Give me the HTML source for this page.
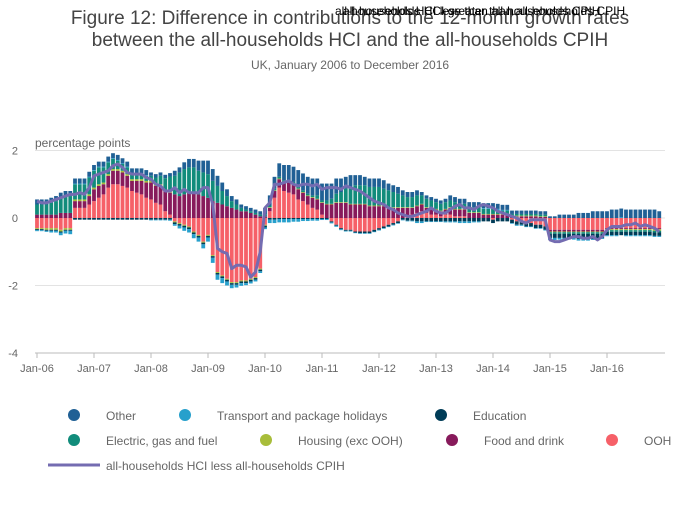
<!DOCTYPE html>
<html><head><meta charset="utf-8"><style>
body{margin:0;background:#fff;font-family:"Liberation Sans",sans-serif}
svg text{font-family:"Liberation Sans",sans-serif}
</style></head><body>
<svg id="c" width="700" height="502">
<text x="350" y="24" text-anchor="middle" font-size="19" fill="#444">Figure 12: Difference in contributions to the 12-month growth rates</text>
<text x="350" y="46" text-anchor="middle" font-size="19" fill="#444">between the all-households HCI and the all-households CPIH</text>
<text x="350" y="69" text-anchor="middle" font-size="12" fill="#666">UK, January 2006 to December 2016</text>
<text x="335" y="15" font-size="12" fill="#000">all-households HCI less than all-households CPIH</text>
<text x="343" y="15" font-size="12" fill="#000">all-households HCI greater than all-households CPIH</text>
<text x="35" y="147" font-size="12" fill="#666">percentage points</text>
<g id="grid"></g><g id="bars"></g><g id="lineg"></g><g id="axes"></g>
<g id="legend"></g>
</svg>
<script>
const categories=[];for(let y=6;y<=16;y++)for(let m=0;m<12;m++)categories.push((y<10?'0':'')+y+'-'+(m+1));
const yTicks=[2,0,-2,-4];
const xTickLabels=['Jan-06','Jan-07','Jan-08','Jan-09','Jan-10','Jan-11','Jan-12','Jan-13','Jan-14','Jan-15','Jan-16'];
const ooh=[-0.3,-0.3,-0.3,-0.3,-0.3,-0.35,-0.3,-0.3,0.3,0.3,0.3,0.4,
0.5,0.6,0.7,0.9,1.0,1.0,0.95,0.9,0.8,0.75,0.7,0.6,
0.55,0.45,0.4,0.2,0.1,-0.1,-0.15,-0.2,-0.25,-0.4,-0.5,-0.7,
-0.5,-1.1,-1.6,-1.7,-1.8,-1.9,-1.9,-1.85,-1.85,-1.8,-1.75,-1.5,
-0.2,0.2,0.6,0.9,0.8,0.75,0.7,0.55,0.5,0.4,0.3,0.25,
0.1,0.0,-0.1,-0.2,-0.3,-0.35,-0.35,-0.4,-0.4,-0.4,-0.4,-0.35,
-0.3,-0.25,-0.2,-0.15,-0.1,0.0,0.05,0.1,0.15,0.2,0.15,0.1,
0.1,0.05,0.1,0.1,0.05,0.05,0.05,0.0,0.0,0.0,0.0,0.0,
-0.05,0.0,0.0,0.0,-0.05,-0.1,-0.1,-0.15,-0.15,-0.2,-0.2,-0.25,
-0.35,-0.35,-0.35,-0.35,-0.35,-0.35,-0.35,-0.35,-0.35,-0.35,-0.35,-0.35,
-0.3,-0.3,-0.3,-0.3,-0.3,-0.3,-0.3,-0.3,-0.3,-0.3,-0.3,-0.3];
const food=[0.1,0.1,0.1,0.1,0.1,0.15,0.15,0.15,0.2,0.2,0.2,0.25,
0.35,0.35,0.3,0.35,0.4,0.4,0.4,0.35,0.3,0.35,0.4,0.45,
0.5,0.5,0.55,0.6,0.65,0.7,0.65,0.7,0.75,0.75,0.7,0.65,
0.6,0.5,0.45,0.4,0.35,0.3,0.25,0.2,0.2,0.15,0.1,0.05,
0.05,0.1,0.2,0.25,0.25,0.3,0.3,0.3,0.25,0.25,0.3,0.3,
0.35,0.4,0.4,0.45,0.45,0.45,0.4,0.4,0.4,0.4,0.35,0.35,
0.35,0.35,0.3,0.3,0.3,0.3,0.25,0.2,0.2,0.2,0.15,0.15,
0.15,0.15,0.15,0.2,0.2,0.2,0.2,0.15,0.15,0.15,0.1,0.1,
0.1,0.1,0.1,0.1,0.05,0.05,0.05,0.05,0.05,0.05,0.03,0.03,
-0.05,-0.05,-0.05,-0.05,-0.05,-0.05,-0.05,-0.05,-0.05,-0.05,-0.05,-0.05,
-0.03,-0.03,-0.03,-0.03,-0.03,-0.03,-0.03,-0.03,-0.03,-0.03,-0.03,-0.03];
const electric=[0.3,0.3,0.3,0.35,0.4,0.45,0.5,0.5,0.45,0.45,0.45,0.5,
0.5,0.5,0.45,0.35,0.3,0.25,0.2,0.2,0.15,0.15,0.15,0.15,
0.15,0.2,0.25,0.35,0.45,0.55,0.7,0.75,0.75,0.75,0.7,0.7,
0.7,0.6,0.5,0.4,0.3,0.2,0.15,0.1,0.05,0.05,0.05,0.05,
0.05,0.05,0.05,0.05,0.05,0.05,0.05,0.05,0.05,0.05,0.05,0.1,
0.05,0.1,0.15,0.25,0.3,0.4,0.5,0.55,0.55,0.55,0.55,0.55,
0.55,0.5,0.5,0.45,0.4,0.35,0.3,0.3,0.3,0.25,0.25,0.25,
0.2,0.2,0.2,0.2,0.2,0.15,0.15,0.15,0.15,0.15,0.15,0.15,
0.15,0.1,0.1,0.1,0.05,0.05,0.05,0.05,0.05,0.05,0.05,0.05,
-0.05,-0.05,-0.05,-0.05,-0.05,-0.05,-0.05,-0.05,-0.05,-0.05,-0.05,-0.05,
-0.05,-0.05,-0.05,-0.05,-0.05,-0.05,-0.05,-0.05,-0.05,-0.05,-0.05,-0.05];
const other=[0.15,0.15,0.15,0.15,0.15,0.15,0.15,0.15,0.15,0.15,0.15,0.15,
0.15,0.15,0.15,0.15,0.15,0.15,0.15,0.15,0.15,0.15,0.15,0.15,
0.1,0.1,0.1,0.1,0.1,0.15,0.15,0.2,0.25,0.25,0.3,0.35,
0.4,0.35,0.3,0.25,0.2,0.15,0.15,0.1,0.1,0.1,0.1,0.1,
0.2,0.3,0.35,0.4,0.45,0.45,0.45,0.5,0.5,0.5,0.5,0.5,
0.5,0.5,0.45,0.45,0.4,0.35,0.35,0.3,0.3,0.25,0.25,0.25,
0.25,0.25,0.2,0.2,0.2,0.15,0.15,0.15,0.15,0.1,0.1,0.1,
0.1,0.1,0.1,0.15,0.15,0.15,0.15,0.15,0.15,0.15,0.15,0.15,
0.15,0.15,0.15,0.15,0.1,0.1,0.1,0.1,0.1,0.1,0.1,0.1,
0.05,0.05,0.1,0.1,0.1,0.1,0.15,0.15,0.15,0.2,0.2,0.2,
0.2,0.25,0.25,0.25,0.25,0.25,0.25,0.25,0.25,0.25,0.25,0.2];
const transport=[-0.03,-0.03,-0.03,-0.05,-0.05,-0.08,-0.08,-0.1,0.02,0.02,0.02,0.02,
0.02,0.02,0.02,0.02,0.02,0.02,0.02,0.02,0.02,0.02,0.02,0.02,
-0.02,-0.02,-0.02,-0.02,-0.03,-0.05,-0.08,-0.1,-0.1,-0.12,-0.12,-0.12,
-0.12,-0.15,-0.15,-0.15,-0.12,-0.1,-0.08,-0.08,-0.06,-0.06,-0.05,-0.05,
-0.05,-0.1,-0.1,-0.1,-0.1,-0.1,-0.08,-0.08,-0.06,-0.06,-0.05,-0.05,
-0.03,-0.03,-0.03,-0.03,-0.03,-0.02,-0.02,-0.02,-0.02,-0.02,-0.02,-0.02,
-0.02,-0.02,-0.02,-0.02,-0.02,-0.02,-0.02,-0.02,-0.05,-0.05,-0.02,-0.02,
-0.02,-0.02,-0.03,-0.03,-0.03,-0.05,-0.05,-0.05,-0.03,-0.03,0.02,0.02,
0.02,0.05,0.02,0.02,-0.02,-0.03,-0.03,-0.02,-0.02,-0.02,-0.02,-0.02,
-0.06,-0.06,-0.05,-0.05,-0.05,-0.05,-0.05,-0.05,-0.05,-0.03,-0.03,-0.03,
-0.03,-0.03,-0.03,0.03,-0.03,-0.03,-0.03,-0.03,-0.03,-0.03,-0.03,-0.03];
const housing=[-0.03,-0.03,-0.05,-0.05,-0.05,-0.05,-0.05,-0.05,0.05,0.05,0.05,0.05,
0.05,0.05,0.05,0.05,0.05,0.05,0.05,0.05,0.05,0.05,0.05,0.05,
0.05,0.05,0.05,0.03,0.03,-0.03,-0.03,-0.03,-0.03,-0.03,-0.03,-0.03,
-0.03,-0.03,-0.03,-0.03,-0.03,-0.03,-0.03,-0.03,-0.03,-0.03,-0.03,-0.03,
-0.03,0.02,0.02,0.02,0.02,0.02,0.02,0.02,0.02,0.02,0.02,0.02,
0.02,0.02,0.02,0.02,0.02,0.02,0.02,0.02,0.02,0.02,0.02,0.02,
0.02,0.02,0.02,0.02,0.02,0.02,0.02,0.02,0.02,0.02,0.02,0.02,
0.02,0.02,0.02,0.02,0.02,0.02,0.02,0.02,0.02,0.02,0.02,0.02,
0.02,0.02,0.02,0.02,0.02,0.02,0.02,0.02,0.02,0.02,0.02,0.02,
-0.02,-0.02,-0.02,-0.02,-0.02,-0.02,-0.02,-0.02,-0.02,-0.02,-0.02,-0.02,
-0.03,-0.03,-0.03,-0.03,-0.03,-0.03,-0.03,-0.03,-0.03,-0.03,-0.05,-0.05];
const education=[-0.03,-0.03,-0.03,-0.03,-0.03,-0.03,-0.03,-0.03,-0.05,-0.05,-0.05,-0.05,
-0.05,-0.05,-0.05,-0.05,-0.05,-0.05,-0.05,-0.05,-0.05,-0.05,-0.05,-0.05,
-0.05,-0.05,-0.05,-0.05,-0.05,-0.05,-0.05,-0.05,-0.05,-0.05,-0.05,-0.05,
-0.05,-0.05,-0.05,-0.05,-0.05,-0.05,-0.05,-0.05,-0.05,-0.05,-0.05,-0.05,
-0.05,-0.05,-0.05,-0.03,-0.03,-0.03,-0.03,-0.03,-0.03,-0.03,-0.03,-0.03,
-0.03,-0.03,-0.03,-0.03,-0.03,-0.03,-0.03,-0.03,-0.05,-0.05,-0.05,-0.05,
-0.05,-0.05,-0.05,-0.05,-0.05,-0.05,-0.08,-0.08,-0.1,-0.1,-0.1,-0.1,
-0.1,-0.1,-0.1,-0.1,-0.1,-0.1,-0.1,-0.1,-0.1,-0.1,-0.1,-0.1,
-0.1,-0.1,-0.1,-0.1,-0.1,-0.1,-0.1,-0.1,-0.1,-0.1,-0.1,-0.1,
-0.12,-0.12,-0.12,-0.12,-0.12,-0.12,-0.15,-0.15,-0.15,-0.15,-0.15,-0.12,
-0.1,-0.1,-0.1,-0.1,-0.1,-0.1,-0.1,-0.1,-0.1,-0.1,-0.1,-0.1];
const diff=[0.5,0.45,0.45,0.5,0.55,0.6,0.65,0.7,0.7,0.75,0.7,0.9,
1.25,1.3,1.35,1.4,1.55,1.6,1.5,1.35,1.3,1.3,1.3,1.2,
1.15,1.0,0.95,0.8,0.8,0.9,0.75,0.85,0.75,0.75,0.75,0.9,
0.9,0.4,-0.9,-1.0,-1.05,-1.5,-1.4,-1.4,-1.45,-1.75,-1.6,-1.0,
0.3,0.45,1.0,1.0,1.05,1.1,1.0,0.95,1.0,1.0,0.95,1.0,
0.85,0.9,0.9,0.9,0.85,0.95,0.9,0.85,0.8,0.7,0.6,0.5,
0.45,0.4,0.3,0.25,0.15,0.1,0.05,0.05,0.1,0.15,0.2,0.3,
0.2,0.15,0.15,0.25,0.35,0.4,0.3,0.3,0.25,0.35,0.4,0.35,
0.3,0.2,0.15,0.1,0.05,0.0,-0.1,-0.15,-0.05,-0.05,-0.05,-0.05,
-0.65,-0.7,-0.7,-0.65,-0.6,-0.55,-0.55,-0.6,-0.6,-0.55,-0.65,-0.55,
-0.35,-0.25,-0.25,-0.25,-0.2,-0.2,-0.15,-0.25,-0.2,-0.25,-0.3,-0.4];

const NS='http://www.w3.org/2000/svg';
const x0=37, step=4.75, y0=218, pxPerUnit=33.75;
const xs=i=>x0+i*step;
const ys=v=>y0-v*pxPerUnit;
function mk(t,a,p){const e=document.createElementNS(NS,t);for(const k in a)e.setAttribute(k,a[k]);p.appendChild(e);return e;}
const grid=document.getElementById('grid'),axes=document.getElementById('axes');
yTicks.forEach(t=>{
 const l=mk('line',{x1:35,x2:665,y1:ys(t),y2:ys(t),stroke:'#e3e3e3','stroke-width':1},grid);
 
 
 const tx=mk('text',{x:18,y:ys(t)+4,'text-anchor':'end','font-size':11,fill:'#666'},axes);
 tx.textContent=t<0?'-'+Math.abs(t):t;
 
 
});
const ax=mk('line',{x1:35,x2:665,y1:353,y2:353,stroke:'#bbb'},axes);


xTickLabels.forEach((lab,k)=>{
 const x=xs(k*12);
 mk('line',{x1:x,x2:x,y1:353,y2:358,stroke:'#bbb'},axes);
 const tx=mk('text',{x:x,y:372,'text-anchor':'middle','font-size':11,fill:'#666'},axes);
 tx.textContent=lab;
 
 
});
const series=[['ooh',ooh,'#f66068'],['food-and-drink',food,'#871a5b'],['housing',housing,'#a8bd3a'],['electric-gas-fuel',electric,'#118c7b'],['education',education,'#003c57'],['transport',transport,'#27a0cc'],['other',other,'#206095']];
const bars=document.getElementById('bars');
categories.forEach((c,i)=>{
 let pos=0,neg=0;
 series.forEach(([n,arr,col])=>{
  const v=arr[i];if(!v)return;
  let a,b;
  if(v>0){a=pos;b=pos+v;pos=b;}else{a=neg;b=neg+v;neg=b;}
  const r=mk('rect',{x:xs(i)-1.9,width:3.8,y:Math.min(ys(a),ys(b)),height:Math.abs(ys(a)-ys(b)),fill:col},bars);
  
  
 });
});
const lg=document.getElementById('lineg');
const p=mk('polyline',{points:diff.map((v,i)=>xs(i)+','+ys(v)).join(' '),fill:'none',stroke:'#746cb1','stroke-width':3,'stroke-linejoin':'round'},lg);


const legend=document.getElementById('legend');
const items=[['Other','#206095',74,415],['Transport and package holidays','#27a0cc',185,415],['Education','#003c57',441,415],['Electric, gas and fuel','#118c7b',74,440],['Housing (exc OOH)','#a8bd3a',266,440],['Food and drink','#871a5b',452,440],['OOH','#f66068',612,440]];
items.forEach(([t,col,x,y])=>{
 const c=mk('circle',{cx:x,cy:y,r:6,fill:col},legend);
 
 
 const tx=mk('text',{x:x+32,y:y+5,'font-size':12,fill:'#666'},legend);
 tx.textContent=t;
 
 
});
const ll=mk('line',{x1:48,x2:100,y1:465,y2:465,stroke:'#746cb1','stroke-width':3},legend);


const lt=mk('text',{x:106,y:470,'font-size':12,fill:'#666'},legend);
lt.textContent='all-households HCI less all-households CPIH';


</script>
</body></html>
